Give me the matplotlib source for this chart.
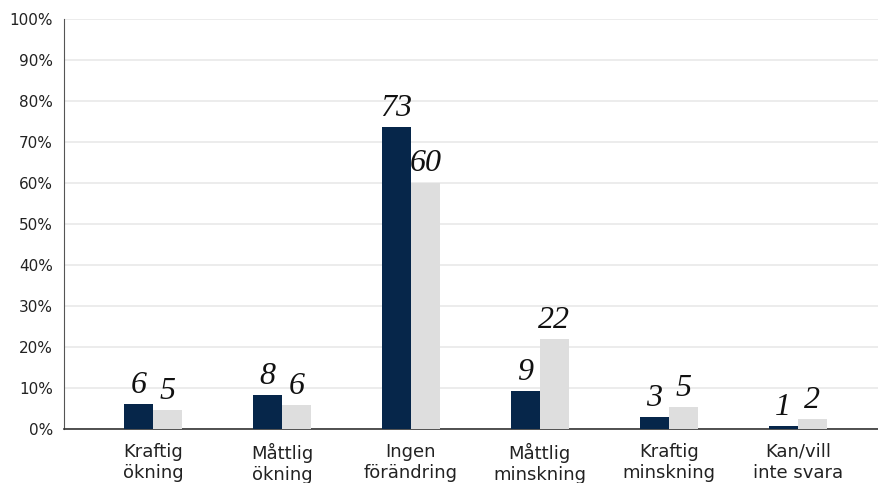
import matplotlib
matplotlib.use("Agg")
import matplotlib.pyplot as plt
import numpy as np

categories = ["Kraftig\nökning", "Måttlig\nökning", "Ingen\nförändring",
              "Måttlig\nminskning", "Kraftig\nminskning", "Kan/vill\ninte svara"]
dark_vals = [6.1, 8.3, 73.7, 9.2, 2.9, 0.7]
light_vals = [4.6, 5.8, 60.1, 21.9, 5.4, 2.4]
dark_labels = ["6", "8", "73", "9", "3", "1"]
light_labels = ["5", "6", "60", "22", "5", "2"]
yticks = list(range(0, 101, 10))

DARK = "#06264a"
LIGHT = "#dedede"

fig = plt.figure(figsize=(8.79, 4.83), dpi=100)
ax = fig.add_axes([0.0728, 0.1118, 0.9272, 0.8489])

x = np.arange(len(categories))
w = 0.225
ax.bar(x - w / 2, dark_vals, w, color=DARK, zorder=3)
ax.bar(x + w / 2, light_vals, w, color=LIGHT, zorder=3)

lab_font = dict(family="Liberation Serif", style="italic", fontsize=23,
                color="#111111", ha="center", va="baseline")
for xi, v, t in zip(x, dark_vals, dark_labels):
    ax.annotate(t, (xi - w / 2, v), xytext=(0, 8), textcoords="offset points", **lab_font)
for xi, v, t in zip(x, light_vals, light_labels):
    ax.annotate(t, (xi + w / 2, v), xytext=(0, 8), textcoords="offset points", **lab_font)

ax.set_xlim(-0.69, 5.63)
ax.set_ylim(0, 100)
ax.set_yticks(yticks)
ax.set_yticklabels([f"{t}%" for t in yticks])
ax.set_xticks(x)
ax.set_xticklabels(categories, linespacing=1.25)
ax.tick_params(axis="y", length=0, pad=8, labelsize=11, labelcolor="#222222")
ax.tick_params(axis="x", length=0, pad=10, labelsize=13, labelcolor="#222222")

ax.grid(axis="y", color="#e9e9e9", lw=1.2, zorder=0)
for s in ("top", "right"):
    ax.spines[s].set_visible(False)
ax.spines["left"].set_color("#555555")
ax.spines["bottom"].set_color("#333333")
ax.spines["bottom"].set_linewidth(1.2)

fig.savefig("out.png", dpi=100)
